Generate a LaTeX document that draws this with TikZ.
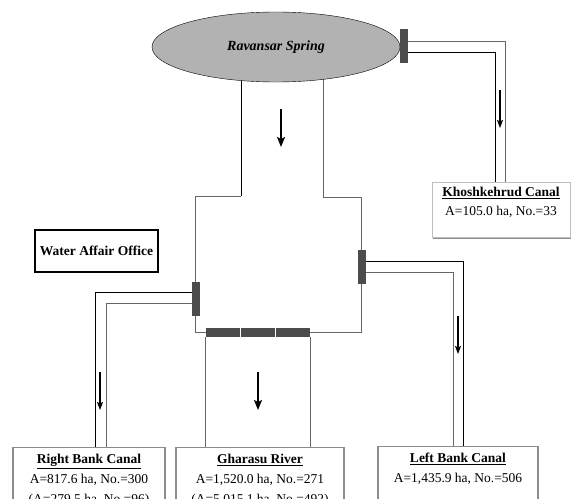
\documentclass[tikz,border=0pt]{standalone}
\usepackage{fontspec}
\setmainfont{Liberation Serif}
\usetikzlibrary{arrows.meta,positioning,shapes.geometric,shadows}

\tikzset{
  wall/.style={black!60,line width=0.8pt},
  walldark/.style={black,line width=0.8pt},
  gatebar/.style={fill=black!70,draw=none,inner sep=0pt,minimum width=8pt,minimum height=34pt},
  gateflat/.style={fill=black!70,draw=none,inner sep=0pt,minimum width=34pt,minimum height=9pt},
  flow/.style={line width=1.4pt,-{Stealth[length=10pt,width=8pt,inset=2pt]}},
  canalflow/.style={line width=1.1pt,-{Stealth[length=8pt,width=6pt,inset=1.5pt]}},
  spring/.style={ellipse,draw=black,fill=black!30,minimum width=248pt,minimum height=70pt,inner sep=0pt,
    font=\fontsize{14}{16}\selectfont},
  sitebox/.style={draw=black!45,line width=1.3pt,fill=white,inner xsep=3pt,inner ysep=6.5pt,
    font=\fontsize{13.5}{20}\selectfont,
    drop shadow={shadow xshift=1.3pt,shadow yshift=-1.3pt,fill=black!70,opacity=1}},
  lightbox/.style={draw=black!25,line width=0.8pt,fill=white,inner xsep=3pt,inner ysep=4.5pt,
    font=\fontsize{13.5}{19}\selectfont,
    drop shadow={shadow xshift=1.2pt,shadow yshift=-1.2pt,fill=black!45,opacity=1}},
  officebox/.style={draw=black,line width=1.8pt,fill=white,minimum width=123pt,minimum height=42pt,
    inner sep=0pt,font=\fontsize{13.5}{16}\selectfont}
}
\newcommand{\sitetext}[3]{\parbox[t][#1][t]{#2}{\centering #3}}

\begin{document}
\begin{tikzpicture}[x=1pt,y=-1pt]
  \useasboundingbox (0,0) rectangle (572,498);
  % main channel below the spring
  \draw[walldark] (241,70) -- (241,196);
  \draw[wall] (241,196) -- (195,196) -- (195,332) -- (206,332);
  \draw[wall] (323,70) -- (323,197) -- (361,197) -- (361,332) -- (310,332);
  \node[spring] (spr) at (276,47) {\textbf{\textit{Ravansar Spring}}};

  % gates
  \node[gatebar] (gk) at (404,46) {};
  \node[gatebar] (gr) at (196,299) {};
  \node[gatebar] (gl) at (362,267) {};
  \foreach \i/\x in {1/223,2/258,3/293}
    \node[gateflat] (gb\i) at (\x,332.5) {};

  % sites
  \node[officebox] (wao) at (96.5,251) {\textbf{Water Affair Office}};
  \node[lightbox,anchor=north] (kkc) at (501,182)
    {\sitetext{46pt}{132pt}{\underline{\textbf{Khoshkehrud Canal}}\\A=105.0 ha, No.=33}};
  \node[sitebox,anchor=north] (rbc) at (89,447)
    {\sitetext{55pt}{146pt}{\underline{\textbf{Right Bank Canal}}\\A=817.6 ha, No.=300\\(A=279.5 ha, No.=96)}};
  \node[sitebox,anchor=north] (grv) at (260,447)
    {\sitetext{55pt}{162pt}{\underline{\textbf{Gharasu River}}\\A=1,520.0 ha, No.=271\\(A=5,015.1 ha, No.=492)}};
  \node[sitebox,anchor=north] (lbc) at (458,446)
    {\sitetext{55pt}{154pt}{\underline{\textbf{Left Bank Canal}}\\A=1,435.9 ha, No.=506}};

  % canals
  \draw[wall] ([yshift=5pt]gk.east) -| ([xshift=4pt]kkc.north);
  \draw[walldark] ([yshift=-6pt]gk.east) -| ([xshift=-6pt]kkc.north);
  \draw[walldark] ([yshift=7pt]gr.west) -| ([xshift=6pt]rbc.north);
  \draw[wall] ([yshift=-4pt]gr.west) -| ([xshift=17pt]rbc.north);
  \draw[walldark] ([yshift=6pt]gl.east) -| ([xshift=5pt]lbc.north);
  \draw[wall] ([yshift=-5pt]gl.east) -| ([xshift=-5pt]lbc.north);
  \draw[wall] (gb1.south west) -- (gb1.south west |- grv.north);
  \draw[wall] (gb3.south east) -- (gb3.south east |- grv.north);

  % flow directions
  \draw[flow] (281,109) -- (281,147);
  \draw[flow] (258,372) -- (258,410);
  \draw[canalflow] (500,90) -- (500,128);
  \draw[canalflow] (100,372) -- (100,410);
  \draw[canalflow] (458,316) -- (458,354);
\end{tikzpicture}
\end{document}
